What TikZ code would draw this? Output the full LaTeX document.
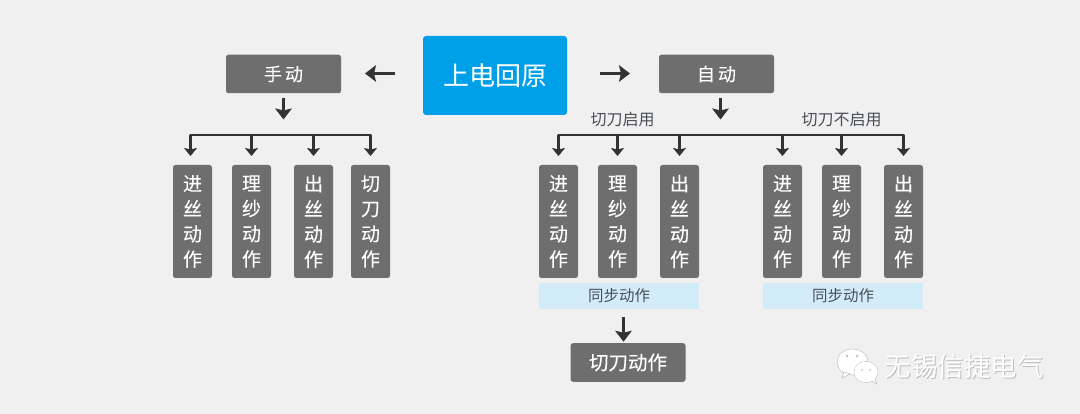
\documentclass[tikz,border=0pt]{standalone}
\usepackage{fontspec}
\setmainfont{Noto Sans CJK SC}
\newfontfamily\boxfont{Noto Sans CJK SC}[FakeBold=0.1]
\usetikzlibrary{arrows.meta,positioning}
\definecolor{pagebg}{HTML}{F1F0F0}
\definecolor{boxgray}{HTML}{6F6E6E}
\definecolor{mainblue}{HTML}{00A0E9}
\definecolor{syncblue}{HTML}{D3ECFA}
\definecolor{arrowdark}{HTML}{333333}
\definecolor{labeltext}{HTML}{4A4F55}
\definecolor{markgray}{HTML}{BDBDBD}

\begin{document}
\begin{tikzpicture}[x=1pt,y=-1pt,outer sep=0pt,
  mainbox/.style={fill=mainblue,rounded corners=3pt,minimum width=144pt,minimum height=79pt,inner sep=0pt,text=white,font=\fontsize{26}{26}\selectfont},
  modebox/.style={fill=boxgray,rounded corners=2.5pt,minimum width=115pt,minimum height=38.5pt,inner sep=0pt,text=white,font=\boxfont\fontsize{18}{18}\selectfont},
  cutbox/.style={modebox,font=\boxfont\fontsize{19.5}{20}\selectfont},
  actbox/.style={fill=boxgray,rounded corners=2.5pt,minimum width=39pt,minimum height=113pt,inner sep=0pt,text=white,align=center,font=\boxfont\fontsize{19}{25.2}\selectfont},
  syncbox/.style={fill=syncblue,minimum width=160pt,minimum height=26pt,inner sep=0pt,text=labeltext,font=\fontsize{15.5}{16}\selectfont},
  caption/.style={inner sep=0pt,text=labeltext,font=\fontsize{16}{16}\selectfont},
  bigarrow/.style={draw=arrowdark,line width=3pt,-{Stealth[length=11pt,width=16.5pt,inset=2pt]}},
  droparrow/.style={draw=arrowdark,line width=2.7pt,-{Stealth[length=8pt,width=13pt,inset=1.5pt]}},
  busline/.style={draw=arrowdark,line width=2.7pt,line cap=round},
  marktext/.style={inner sep=0pt,font=\fontsize{26.5}{27}\selectfont}]
\useasboundingbox[fill=pagebg] (0,0) rectangle (1080,414);
\node[mainbox] (home) at (495,75.5) {上电回原};
\node[modebox,left=82pt of home,yshift=1.5pt] (manual) {手\hspace{3pt}动};
\node[modebox,right=92pt of home,yshift=1.5pt] (auto) {自\hspace{3pt}动};
% manual group
\node[actbox] (m1) at (192.5,221.5) {进\\丝\\动\\作};
\node[actbox,right=20pt of m1] (m2) {理\\纱\\动\\作};
\node[actbox,right=23pt of m2] (m3) {出\\丝\\动\\作};
\node[actbox,right=18pt of m3] (m4) {切\\刀\\动\\作};
% auto group
\node[actbox] (a1) at (558.5,221.5) {进\\丝\\动\\作};
\node[actbox,right=20pt of a1] (a2) {理\\纱\\动\\作};
\node[actbox,right=23pt of a2] (a3) {出\\丝\\动\\作};
\node[actbox,right=64pt of a3] (b1) {进\\丝\\动\\作};
\node[actbox,right=20pt of b1] (b2) {理\\纱\\动\\作};
\node[actbox,right=23pt of b2] (b3) {出\\丝\\动\\作};
\node[syncbox,below right=5pt and 0pt of a1.south west] (synca) {同步动作};
\node[syncbox,below right=5pt and 0pt of b1.south west] (syncb) {同步动作};
\node[cutbox] (cut) at (628,362.5) {切刀动作};
\node[caption] (capa) at (622.5,119) {切刀启用};
\node[caption] (capb) at (841.5,119) {切刀不启用};
\coordinate (busm) at (283.5,135);
\coordinate (busa) at (720.5,135);
% arrows
\draw[bigarrow,shorten <=28pt,shorten >=24pt] ([yshift=2pt]home.west) -- ([yshift=.5pt]manual.east);
\draw[bigarrow,shorten <=33pt,shorten >=29pt] ([yshift=2pt]home.east) -- ([yshift=.5pt]auto.west);
\draw[bigarrow,shorten <=4.5pt,shorten >=15.5pt] (manual) -- (busm);
\draw[bigarrow,shorten <=4.5pt,shorten >=15.5pt] ([xshift=4pt]auto.south) -- (busa);
\draw[bigarrow,shorten <=8pt,shorten >=1.5pt] ([xshift=4.5pt]synca.south) -- ([xshift=-4.5pt]cut.north);
\draw[busline] ([xshift=-2pt]busm -| m1) -- (busm -| m4);
\draw[busline] (busa -| a1) -- (busa -| b3);
\foreach \n/\s in {m1/-2,m2/0,m3/0,m4/0}
  \draw[droparrow,shorten >=9pt] ([xshift=\s pt]busm -| \n) -- ([xshift=\s pt]\n.north);
\foreach \n in {a1,a2,a3,b1,b2,b3}
  \draw[droparrow,shorten >=9pt] (busa -| \n) -- (\n.north);
% watermark
\fill[white,draw=markgray,line width=.5pt] (852.5,362) ellipse (15.5 and 13);
\fill[white,draw=markgray,line width=.5pt] (844,372) -- (842,378) -- (850,374) -- cycle;
\fill[white,draw=markgray,line width=.5pt] (866,372) ellipse (12 and 10.5);
\fill[white,draw=markgray,line width=.5pt] (870,380) -- (877,384) -- (874,377) -- cycle;
\fill[white] (866,372) ellipse (11.7 and 10.2);
\fill[markgray] (847,356) circle (1.3) (857,356) circle (1.3) (862,370) circle (1) (870,370) circle (1);
\node[marktext,text=markgray] at (965,367) {无锡信捷电气};
\node[marktext,text=white] (mark) at (964.3,366.3) {无锡信捷电气};
\end{tikzpicture}
\end{document}
